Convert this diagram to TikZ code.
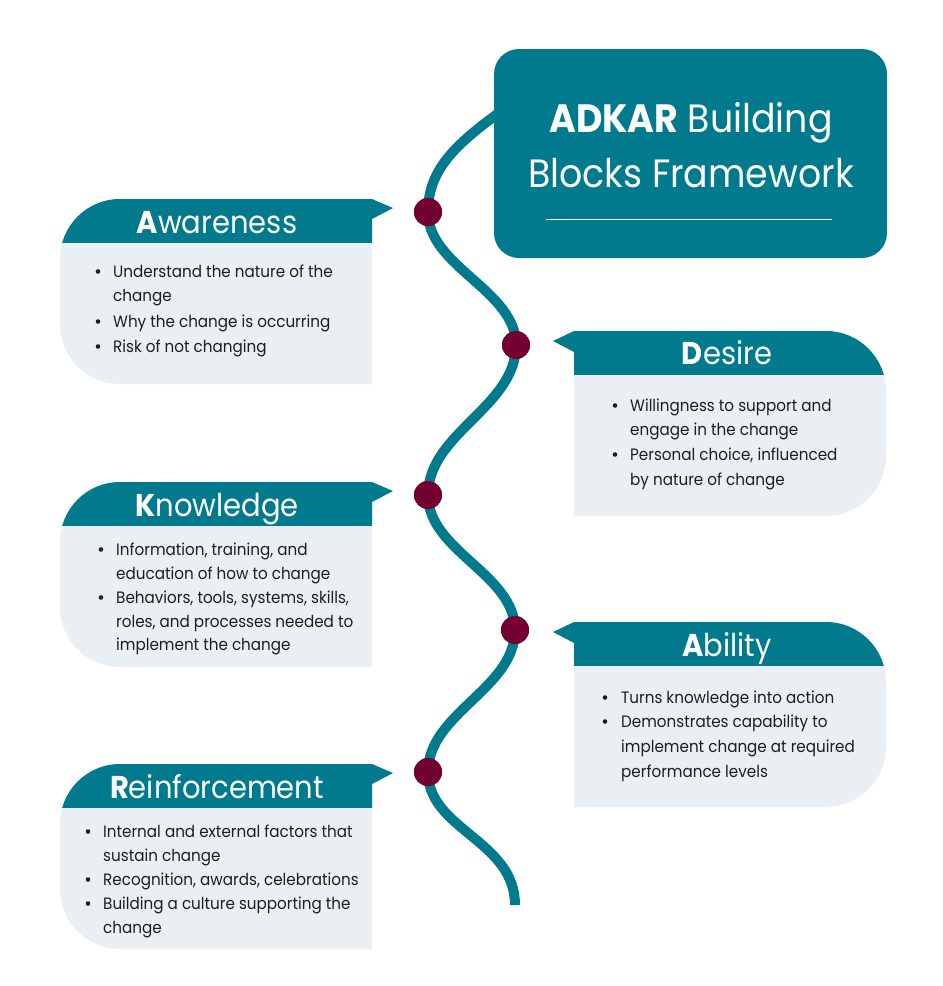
\documentclass[tikz,border=0pt]{standalone}
\usepackage{fontspec}
\setmainfont[FakeStretch=0.92]{Poppins}
\definecolor{tealc}{RGB}{0,122,140}
\definecolor{maroonc}{RGB}{115,0,48}
\definecolor{lightc}{RGB}{234,239,243}
\definecolor{textc}{RGB}{30,30,30}
\newcommand\lshape[2]{(372,#1) -- (120,#1) arc[start angle=270,end angle=180,radius=60] -- (60,{#2-60}) arc[start angle=180,end angle=90,radius=60] -- (372,#2) -- cycle}
\newcommand\rshape[2]{(574,#1) -- (826,#1) arc[start angle=270,end angle=360,radius=60] -- (886,{#2-60}) arc[start angle=0,end angle=90,radius=60] -- (574,#2) -- cycle}
\newcommand\lcard[1]{%
  \fill[lightc] \lshape{#1}{#1+185};
  \begin{scope}\clip \lshape{#1}{#1+185}; \fill[tealc] (0,#1) rectangle (943,{#1+44}); \end{scope}
  \fill[tealc] (372,#1) -- (393,{#1+9}) -- (372,{#1+20}) -- cycle;}
\newcommand\rcard[1]{%
  \fill[lightc] \rshape{#1}{#1+185};
  \begin{scope}\clip \rshape{#1}{#1+185}; \fill[tealc] (0,#1) rectangle (943,{#1+44}); \end{scope}
  \fill[tealc] (574,#1) -- (553,{#1+10}) -- (574,{#1+21}) -- cycle;}
\begin{document}
\begin{tikzpicture}[x=1pt,y=-1pt,
  wave/.style={draw=tealc,line width=10pt},
  dot/.style={circle,fill=maroonc,minimum size=28pt,inner sep=0pt},
  head/.style={anchor=base,inner sep=0pt,text=white,font=\fontsize{31.5}{36}\selectfont},
  btxt/.style={anchor=base west,inner sep=0pt,text=textc,font=\fontsize{16.5}{19}\selectfont},
  bul/.style={circle,fill=textc,minimum size=4.6pt,inner sep=0pt},
  ttl/.style={anchor=base,inner sep=0pt,text=white,font=\fontsize{39.5}{44}\selectfont}]
\useasboundingbox (0,0) rectangle (943,986);
\fill[white] (0,0) rectangle (943,986);
% cards
\lcard{199}
\lcard{482}
\lcard{764}
\rcard{331}
\rcard{622}
% dots positions
\coordinate (w0) at (500,112);
\coordinate (w6) at (515,905);
\node[dot] (d1) at (428,212) {};
\node[dot] (d2) at (516,345) {};
\node[dot] (d3) at (428,495) {};
\node[dot] (d4) at (515,630) {};
\node[dot] (d5) at (428,772) {};
% wave
\draw[wave] (w0) .. controls (455,145) and (428,170) .. (d1.center)
  .. controls (428,267) and (516,290) .. (d2.center)
  .. controls (516,407) and (428,433) .. (d3.center)
  .. controls (428,551) and (515,574) .. (d4.center)
  .. controls (515,689) and (428,713) .. (d5.center)
  .. controls (428,830) and (515,840) .. (w6);
% title box
\node[fill=tealc,rounded corners=25pt,minimum width=393pt,minimum height=209pt,inner sep=0pt] (title) at (690.5,153.5) {};
\node[ttl] (t1) at (691,132) {\textbf{ADKAR} Building};
\node[ttl] (t2) at (691,187) {Blocks Framework};
\draw[white,line width=0.8pt] (546,219) -- (832,219);
% dots on top
\foreach \n in {d1,d2,d3,d4,d5} \fill[maroonc] (\n) circle[radius=14];
% headers
\node[head] (hA) at (217,233) {\textbf{A}wareness};
\node[head] (hK) at (217,516) {\textbf{K}nowledge};
\node[head] (hR) at (217,798) {\textbf{R}einforcement};
\node[head] (hD) at (727,364) {\textbf{D}esire};
\node[head] (hB) at (727,656) {\textbf{A}bility};
% Awareness
\node[bul] (ab1) at (98,271.5) {};
\node[btxt] (a1) at (113,277) {Understand the nature of the};
\node[btxt] (a2) at (113,301) {change};
\node[bul] (ab2) at (98,321.5) {};
\node[btxt] (a3) at (113,327) {Why the change is occurring};
\node[bul] (ab3) at (98,346.5) {};
\node[btxt] (a4) at (113,352) {Risk of not changing};
% Knowledge
\node[bul] (kb1) at (101,549.5) {};
\node[btxt] (k1) at (116,555) {Information, training, and};
\node[btxt] (k2) at (116,579) {education of how to change};
\node[bul] (kb2) at (101,597.5) {};
\node[btxt] (k3) at (116,603) {Behaviors, tools, systems, skills,};
\node[btxt] (k4) at (116,627) {roles, and processes needed to};
\node[btxt] (k5) at (116,650) {implement the change};
% Reinforcement
\node[bul] (rb1) at (88,831.5) {};
\node[btxt] (r1) at (103,837) {Internal and external factors that};
\node[btxt] (r2) at (103,861) {sustain change};
\node[bul] (rb2) at (88,879.5) {};
\node[btxt] (r3) at (103,885) {Recognition, awards, celebrations};
\node[bul] (rb3) at (88,903.5) {};
\node[btxt] (r4) at (103,909) {Building a culture supporting the};
\node[btxt] (r5) at (103,933) {change};
% Desire
\node[bul] (db1) at (615,405.5) {};
\node[btxt] (e1) at (630,411) {Willingness to support and};
\node[btxt] (e2) at (630,435) {engage in the change};
\node[bul] (db2) at (615,454.5) {};
\node[btxt] (e3) at (630,460) {Personal choice, influenced};
\node[btxt] (e4) at (630,485) {by nature of change};
% Ability
\node[bul] (bb1) at (605,697.5) {};
\node[btxt] (b1) at (621,703) {Turns knowledge into action};
\node[bul] (bb2) at (605,721.5) {};
\node[btxt] (b2) at (621,727) {Demonstrates capability to};
\node[btxt] (b3) at (621,752) {implement change at required};
\node[btxt] (b4) at (621,777) {performance levels};
\end{tikzpicture}
\end{document}
